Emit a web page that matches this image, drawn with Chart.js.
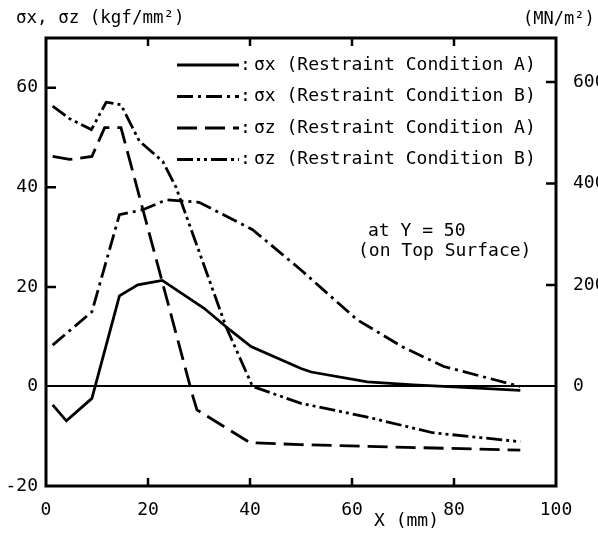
<!DOCTYPE html>
<html>
<head>
<meta charset="utf-8">
<script src="https://cdn.jsdelivr.net/npm/chart.js@4.4.1/dist/chart.umd.min.js"></script>
<style>
  html, body { margin: 0; padding: 0; background: #fff; }
  #wrap { width: 598px; height: 539px; }
</style>
</head>
<body>
<div id="wrap"><canvas id="c" width="598" height="539"></canvas></div>
<script>
// Datos (X en mm, tensiones en kgf/mm2)
const xSxA = [1.3, 4, 9, 14.4, 18, 22.8, 31, 36, 40.2, 50, 52, 63, 72, 80, 93];
const sxA  = [-3.7, -6.9, -2.4, 18.2, 20.4, 21.3, 15.7, 11.4, 8, 3.6, 2.9, 0.9, 0.3, -0.1, -0.8];

const xSxB = [1.3, 9, 14.4, 19, 23.6, 30, 40.5, 50, 61, 70, 78, 93];
const sxB  = [8.3, 15, 34.5, 35.5, 37.5, 37, 31.5, 23.4, 13.4, 7.9, 4, 0];

const xSzA = [1.3, 4.6, 9, 11.5, 14.7, 28.8, 29.6, 40, 50, 93];
const szA  = [46.2, 45.6, 46.2, 52, 52, -2, -4.7, -11.3, -11.7, -12.8];

const xSzB = [1.3, 4.6, 8.9, 11.8, 14.7, 18.3, 22.9, 25.5, 35.3, 40.5, 50, 62.8, 75.8, 93];
const szB  = [56.3, 53.8, 51.6, 57.1, 56.6, 49.3, 45.2, 40, 12, 0, -3.4, -6.1, -9.3, -11.1];

const seriesLabels = [
    'σx (Restraint Condition A)',
    'σx (Restraint Condition B)',
    'σz (Restraint Condition A)',
    'σz (Restraint Condition B)'
];
const dashes = [[], [16, 5, 3, 5], [20, 8], [16, 4, 3, 4, 3, 4]];

const xTicks  = [0, 20, 40, 60, 80, 100];
const yTicks  = [-20, 0, 20, 40, 60];
const y2Ticks = [0, 200, 400, 600];
const KGF_TO_MN = 9.80665;

const FONT = "'DejaVu Sans Mono', monospace";

function pts(xs, ys) {
    return xs.map((x, i) => ({ x: x, y: ys[i] }));
}

// Marco, marcas interiores, leyenda y textos
const decor = {
    id: 'decor',
    afterDraw(chart) {
        const ctx = chart.ctx;
        const a = chart.chartArea;
        const sx = chart.scales.x, sy = chart.scales.y, sy2 = chart.scales.y2;
        ctx.save();
        ctx.strokeStyle = '#000';
        ctx.lineWidth = 3;
        ctx.strokeRect(a.left, a.top, a.right - a.left, a.bottom - a.top);

        ctx.lineWidth = 2.5;
        ctx.beginPath();
        xTicks.slice(1, -1).forEach(v => {
            const px = sx.getPixelForValue(v);
            ctx.moveTo(px, a.top); ctx.lineTo(px, a.top + 8);
            ctx.moveTo(px, a.bottom); ctx.lineTo(px, a.bottom - 8);
        });
        yTicks.forEach(v => {
            if (v === 0 || v === -20) return;
            const py = sy.getPixelForValue(v);
            ctx.moveTo(a.left, py); ctx.lineTo(a.left + 10, py);
        });
        y2Ticks.forEach(v => {
            if (v === 0) return;
            const py = sy2.getPixelForValue(v);
            ctx.moveTo(a.right, py); ctx.lineTo(a.right - 10, py);
        });
        ctx.stroke();

        // leyenda
        ctx.fillStyle = '#000';
        ctx.font = '18px ' + FONT;
        ctx.textBaseline = 'middle';
        ctx.textAlign = 'left';
        seriesLabels.forEach((txt, i) => {
            const yy = a.top + 27 + i * 31.5;
            ctx.setLineDash(dashes[i]);
            ctx.lineWidth = 2.8;
            ctx.beginPath();
            ctx.moveTo(a.left + 131, yy);
            ctx.lineTo(a.left + 193, yy);
            ctx.stroke();
            ctx.setLineDash([]);
            ctx.fillText(':', a.left + 194, yy);
            ctx.fillText(txt, a.left + 208, yy);
        });

        ctx.fillText('at Y = 50', a.left + 322, a.top + 193);
        ctx.fillText('(on Top Surface)', a.left + 312, a.top + 213);

        // títulos de ejes
        ctx.font = '17.5px ' + FONT;
        ctx.fillText('σx, σz (kgf/mm²)', 16, 18);
        ctx.font = '17px ' + FONT;
        ctx.fillText('(MN/m²)', 523, 20);
        ctx.font = '18px ' + FONT;
        ctx.fillText('X (mm)', 374, 521);
        ctx.restore();
    }
};

const ds = (label, xs, ys, i) => ({
    label: label,
    data: pts(xs, ys),
    borderColor: '#000',
    borderWidth: 2.8,
    borderDash: dashes[i],
    pointRadius: 0,
    fill: false,
    tension: 0
});

new Chart(document.getElementById('c'), {
    type: 'line',
    data: {
        datasets: [
            ds(seriesLabels[0], xSxA, sxA, 0),
            ds(seriesLabels[1], xSxB, sxB, 1),
            ds(seriesLabels[2], xSzA, szA, 2),
            ds(seriesLabels[3], xSzB, szB, 3)
        ]
    },
    options: {
        responsive: false,
        animation: false,
        layout: { padding: { top: 38, left: 0, right: 0, bottom: 0 } },
        plugins: {
            legend: { display: false },
            tooltip: { enabled: false }
        },
        scales: {
            x: {
                type: 'linear',
                min: 0, max: 100,
                afterBuildTicks: s => { s.ticks = xTicks.map(v => ({ value: v })); },
                afterFit: s => { s.height = 53; },
                grid: { display: false },
                border: { display: false },
                ticks: { color: '#000', font: { family: FONT, size: 18 }, padding: 6, maxRotation: 0 }
            },
            y: {
                min: -20, max: 70,
                afterBuildTicks: s => { s.ticks = yTicks.map(v => ({ value: v })); },
                afterFit: s => { s.width = 46; },
                grid: {
                    drawTicks: false,
                    color: c => (c.tick && c.tick.value === 0) ? '#000' : 'rgba(0,0,0,0)',
                    lineWidth: 2
                },
                border: { display: false },
                ticks: { color: '#000', font: { family: FONT, size: 18 }, padding: 8 }
            },
            y2: {
                position: 'right',
                min: -20 * KGF_TO_MN, max: 70 * KGF_TO_MN,
                afterBuildTicks: s => { s.ticks = y2Ticks.map(v => ({ value: v })); },
                afterFit: s => { s.width = 42; },
                grid: { display: false, drawOnChartArea: false, drawTicks: false },
                border: { display: false },
                ticks: { color: '#000', font: { family: FONT, size: 18 }, padding: 17 }
            }
        }
    },
    plugins: [decor]
});
</script>
</body>
</html>
